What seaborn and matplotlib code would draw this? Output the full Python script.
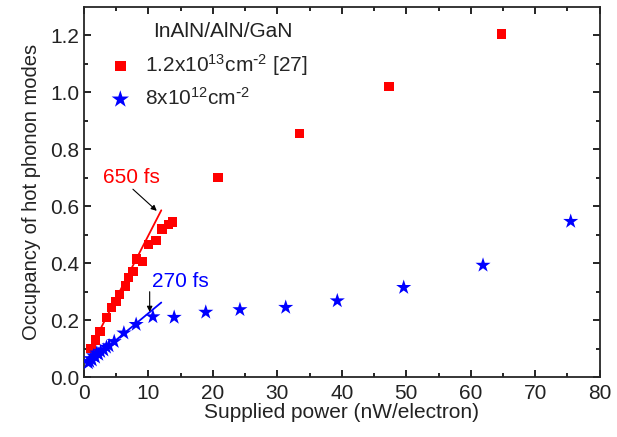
import matplotlib
matplotlib.use('Agg')
import matplotlib.pyplot as plt
import seaborn as sns
import pandas as pd

# Red squares: 1.2x10^13 cm^-2 [27]
red_x = [1.1, 1.8, 2.5, 3.5, 4.3, 5.0, 5.5, 6.4, 6.9, 7.6, 8.2, 9.1, 10.0, 11.2, 12.1, 13.1, 13.7,
         20.8, 33.4, 47.3, 64.8]
red_y = [0.10, 0.13, 0.16, 0.21, 0.245, 0.265, 0.29, 0.32, 0.35, 0.37, 0.415, 0.405, 0.465, 0.48,
         0.52, 0.535, 0.545, 0.70, 0.855, 1.02, 1.205]

# Blue stars: 8x10^12 cm^-2
blue_x = [0.7, 0.9, 1.1, 1.3, 1.5, 1.8, 2.0, 2.3, 2.6, 3.1, 3.5, 3.9, 4.7, 6.2, 8.1,
          10.7, 14.0, 18.9, 24.2, 31.3, 39.3, 49.6, 61.9, 75.5]
blue_y = [0.05, 0.055, 0.065, 0.06, 0.075, 0.07, 0.085, 0.08, 0.09, 0.095, 0.105, 0.11, 0.125,
          0.155, 0.185, 0.212, 0.21, 0.228, 0.237, 0.245, 0.268, 0.315, 0.393, 0.547]

# Linear fits (endpoints)
red_fit_x = [1.0, 12.0]
red_fit_y = [0.10, 0.586]
blue_fit_x = [0.6, 12.0]
blue_fit_y = [0.048, 0.262]

red_label = r'1.2x10$^{13}$cm$^{\text{-}2}$ [27]'
blue_label = r'8x10$^{12}$cm$^{\text{-}2}$'

sns.set_style('ticks')
plt.rcParams['font.family'] = ['Liberation Sans', 'DejaVu Sans']
plt.rcParams['mathtext.default'] = 'regular'
plt.rcParams['xtick.direction'] = 'in'
plt.rcParams['ytick.direction'] = 'in'

txt = '#222222'
fs = 15

fig = plt.figure(figsize=(6.17, 4.37), dpi=100)
ax = fig.add_axes([0.136, 0.137, 0.836, 0.847])

df_red = pd.DataFrame({'x': red_x, 'y': red_y})
df_blue = pd.DataFrame({'x': blue_x, 'y': blue_y})

sns.lineplot(x=red_fit_x, y=red_fit_y, color='red', lw=1.3, ax=ax)
sns.lineplot(x=blue_fit_x, y=blue_fit_y, color='blue', lw=1.3, ax=ax)
sns.scatterplot(data=df_red, x='x', y='y', marker='s', s=45, color='red',
                edgecolor='none', label=red_label, ax=ax, zorder=3)
sns.scatterplot(data=df_blue, x='x', y='y', marker='*', s=130, color='blue',
                edgecolor='none', label=blue_label, ax=ax, zorder=3)

ax.set_xlim(0, 80)
ax.set_ylim(0, 1.3)
ax.set_xticks(range(0, 81, 10))
ax.set_xticks(range(5, 80, 10), minor=True)
ax.set_yticks([0.0, 0.2, 0.4, 0.6, 0.8, 1.0, 1.2])
ax.set_yticks([0.1, 0.3, 0.5, 0.7, 0.9, 1.1], minor=True)
ax.set_yticklabels(['0.0', '0.2', '0.4', '0.6', '0.8', '1.0', '1.2'])
ax.tick_params(which='both', top=True, right=True, labelsize=fs, width=1.2,
               color='black', labelcolor=txt)
ax.tick_params(which='major', length=5)
ax.tick_params(axis='x', which='major', pad=5)
ax.tick_params(which='minor', length=3)
for sp in ax.spines.values():
    sp.set_linewidth(1.3)

ax.set_xlabel('Supplied power (nW/electron)', fontsize=fs, color=txt, labelpad=0)
ax.set_ylabel('Occupancy of hot phonon modes', fontsize=14.5, color=txt, labelpad=6)

ax.text(10.7, 1.215, 'InAlN/AlN/GaN', fontsize=fs, color=txt, va='center')
ax.legend(loc='upper left', bbox_to_anchor=(0.01, 0.93), frameon=False, fontsize=fs,
          handletextpad=0.6, labelspacing=0.45, handlelength=1.2, markerscale=1.15)

# lifetime annotations
ax.text(7.3, 0.70, '650 fs', fontsize=fs, color='red', ha='center', va='center')
ax.annotate('', xy=(11.3, 0.584), xytext=(7.6, 0.66),
            arrowprops=dict(arrowstyle='-|>', color='black', lw=0.8, mutation_scale=8,
                            shrinkA=0, shrinkB=0))
ax.text(10.5, 0.336, '270 fs', fontsize=fs, color='blue', ha='left', va='center')
ax.annotate('', xy=(10.2, 0.229), xytext=(10.2, 0.30),
            arrowprops=dict(arrowstyle='-|>', color='black', lw=0.8, mutation_scale=8,
                            shrinkA=0, shrinkB=0))

fig.savefig('out.png', dpi=100)
